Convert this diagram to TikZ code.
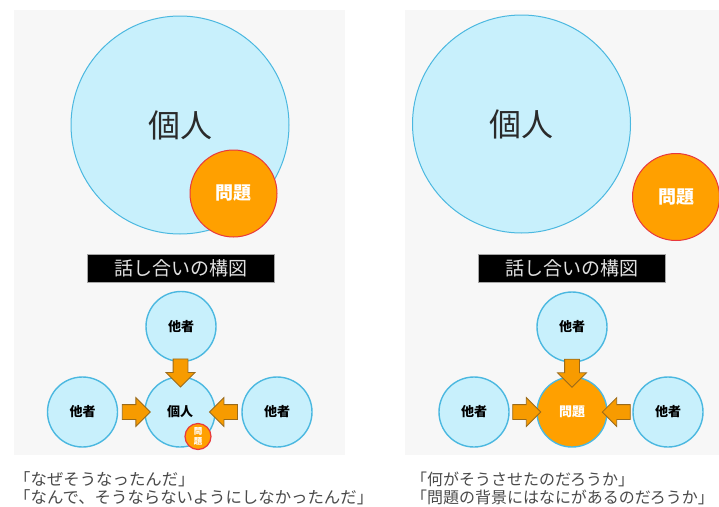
\documentclass[tikz,border=0pt]{standalone}
\usepackage{fontspec}
\setmainfont{Noto Sans CJK JP}
\usetikzlibrary{shapes.arrows,calc}
\definecolor{panelgray}{HTML}{F7F7F7}
\definecolor{lightblue}{HTML}{C8F0FC}
\definecolor{blueline}{HTML}{4BB8E0}
\definecolor{orangefill}{HTML}{FFA000}
\definecolor{redline}{HTML}{E8383D}
\definecolor{arrowline}{HTML}{9A6A1A}
\definecolor{textgray}{HTML}{4A4A4A}
\definecolor{darktext}{HTML}{2A2A2A}
\tikzset{
  panel/.style={fill=panelgray, draw=none},
  bigperson/.style={circle, draw=blueline, line width=1pt, fill=lightblue, minimum size=218pt, inner sep=0pt,
    font=\fontsize{32}{36}\selectfont, text=darktext},
  bigproblem/.style={circle, draw=redline, line width=1pt, fill=orangefill, minimum size=87pt, inner sep=0pt,
    font=\bfseries\fontsize{18}{20}\selectfont, text=white},
  smallc/.style={circle, draw=blueline, line width=1.4pt, fill=lightblue, minimum size=70pt, inner sep=0pt,
    font=\bfseries\fontsize{13}{15}\selectfont, text=black},
  smallprob/.style={smallc, fill=orangefill, text=white},
  badge/.style={circle, draw=redline, line width=1.2pt, fill=orangefill, minimum size=26pt, inner sep=0pt,
    font=\bfseries\fontsize{8.5}{10}\selectfont, text=white, align=center},
  titlebox/.style={fill=black, draw=gray!70, line width=0.5pt, minimum width=187pt, minimum height=28pt, inner sep=0pt,
    font=\fontsize{19}{21}\selectfont, text=white!88!black},
  barrow/.style={single arrow, draw=arrowline, fill=orangefill!97!black, line width=0.8pt, minimum height=28pt,
    minimum width=28pt, inner sep=7pt, single arrow head extend=7pt},
  quote/.style={anchor=west, inner sep=0pt, font=\fontsize{16.4}{18}\selectfont, text=textgray}
}
\begin{document}
\begin{tikzpicture}[x=1pt,y=-1pt]
\useasboundingbox (0,0) rectangle (719,506);
\fill[white] (0,0) rectangle (719,506);
% panels
\path[panel] (14,10) rectangle (345,455);
\path[panel] (405,10) rectangle (719,455);

% ---------- left panel ----------
\node[bigperson] (Lperson) at (180,125) {個人};
\node[bigproblem] (Lproblem) at (233.5,193.5) {問題};
\node[titlebox] (Ltitle) at (180.5,268) {話し合いの構図};
\node[smallc] (Ltop) at (181,326.5) {他者};
\node[smallc] (Lctr) at (180,412) {個人};
\node[smallc] (Lleft) at (82.5,412) {他者};
\node[smallc] (Lright) at (277,412) {他者};
\node[badge] (Lbadge) at (198,436.5) {問\\題};
\node[barrow, shape border rotate=270] (La1) at ($(Ltop.south)!0.5!(Lctr.north)$) {};
\node[barrow, shape border rotate=0] (La2) at ($(Lleft.east)!0.55!(Lctr.west)$) {};
\node[barrow, shape border rotate=180] (La3) at ($(Lright.west)!0.55!(Lctr.east)$) {};
\node[quote] (Lq1) at (14,479) {「なぜそうなったんだ」};
\node[quote] (Lq2) at (14,497) {「なんで、そうならないようにしなかったんだ」};

% ---------- right panel ----------
\node[bigperson] (Rperson) at (521.5,124) {個人};
\node[bigproblem] (Rproblem) at (676,197) {問題};
\node[titlebox] (Rtitle) at (571.5,268) {話し合いの構図};
\node[smallc] (Rtop) at (572,327) {他者};
\node[smallprob] (Rctr) at (572,412) {問題};
\node[smallc] (Rleft) at (474,412) {他者};
\node[smallc] (Rright) at (668,412) {他者};
\node[barrow, shape border rotate=270] (Ra1) at ($(Rtop.south)!0.5!(Rctr.north)$) {};
\node[barrow, shape border rotate=0] (Ra2) at ($(Rleft.east)!0.5!(Rctr.west)$) {};
\node[barrow, shape border rotate=180] (Ra3) at ($(Rright.west)!0.5!(Rctr.east)$) {};
\node[quote, font=\fontsize{16}{18}\selectfont] (Rq1) at (411,479) {「何がそうさせたのだろうか」};
\node[quote, font=\fontsize{16}{18}\selectfont] (Rq2) at (411,497) {「問題の背景にはなにがあるのだろうか」};
\end{tikzpicture}
\end{document}
